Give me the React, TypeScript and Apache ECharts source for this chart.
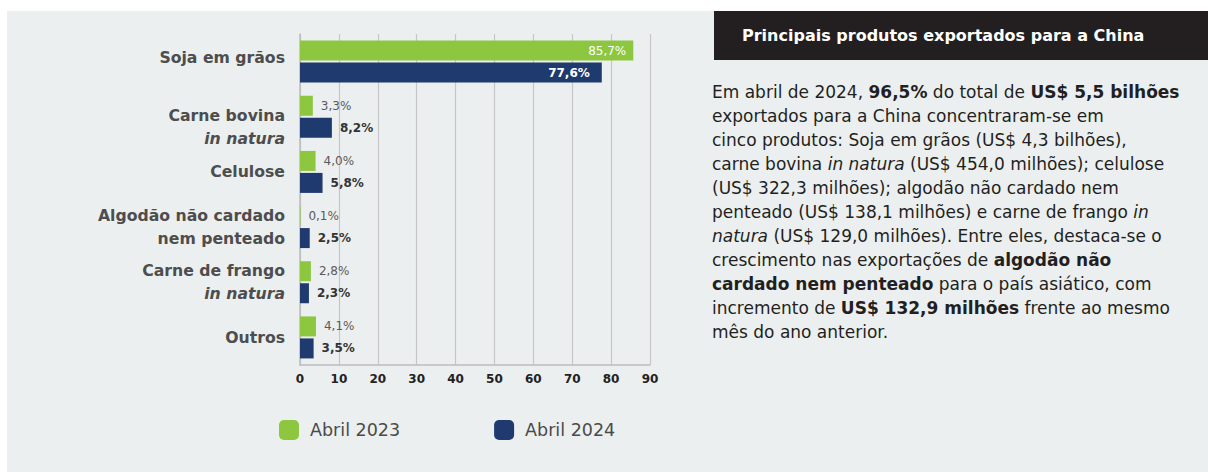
import React, { useEffect, useRef } from "react";
import * as echarts from "echarts";

const categories = [
  "Soja em grãos",
  "Carne bovina in natura",
  "Celulose",
  "Algodão não cardado nem penteado",
  "Carne de frango in natura",
  "Outros",
];
const axisLabels = [
  "{b|Soja em grãos}\n{g8| }",
  "{g20| }\n{b|Carne bovina}\n{i|in natura}",
  "{b|Celulose}",
  "{b|Algodão não cardado}\n{b|nem penteado}",
  "{b|Carne de frango}\n{i|in natura}",
  "{b|Outros}",
];
const seriesNames = ["Abril 2023", "Abril 2024"];
const abril2023 = [85.7, 3.3, 4.0, 0.1, 2.8, 4.1];
const abril2024 = [77.6, 8.2, 5.8, 2.5, 2.3, 3.5];
const xTicks = { min: 0, max: 90, interval: 10 };

const headerTitle = "Principais produtos exportados para a China";
// each line: list of [style, text]
const bodyLines: [string, string][][] = [
  [["n", "Em abril de 2024, "], ["b", "96,5%"], ["n", " do total de "], ["b", "US$ 5,5 bilhões"]],
  [["n", "exportados para a China concentraram-se em"]],
  [["n", "cinco produtos: Soja em grãos (US$ 4,3 bilhões),"]],
  [["n", "carne bovina "], ["i", "in natura"], ["n", " (US$ 454,0 milhões); celulose"]],
  [["n", "(US$ 322,3 milhões); algodão não cardado nem"]],
  [["n", "penteado (US$ 138,1 milhões) e carne de frango "], ["i", "in"]],
  [["i", "natura"], ["n", " (US$ 129,0 milhões). Entre eles, destaca-se o"]],
  [["n", "crescimento nas exportações de "], ["b", "algodão não"]],
  [["b", "cardado nem penteado"], ["n", " para o país asiático, com"]],
  [["n", "incremento de "], ["b", "US$ 132,9 milhões"], ["n", " frente ao mesmo"]],
  [["n", "mês do ano anterior."]],
];

const GREEN = "#8DC63F";
const BLUE = "#1F3A6F";
const FONT = "'DejaVu Sans', sans-serif";
const BODY = 17;

const fmt = (v: number) => v.toFixed(1).replace(".", ",") + "%";

export default function App() {
  const ref = useRef<HTMLDivElement>(null);
  useEffect(() => {
    document.body.style.margin = "0";
    const chart = echarts.init(ref.current!, null, { renderer: "svg" });
    const bodyText = bodyLines
      .map((line) => line.map(([s, t]) => `{${s}|${t}}`).join(""))
      .join("\n");
    const lab = { fontSize: 15.7, fontWeight: 700, color: "#4d4d4d", lineHeight: 23, fontFamily: FONT, align: "right" };
    const option: any = {
      animation: false,
      textStyle: { fontFamily: FONT },
      graphic: [
        {
          type: "rect",
          z: -10,
          shape: { x: 7, y: 11, width: 1201, height: 461 },
          style: { fill: "#ECEFF0" },
        },
        {
          type: "rect",
          z: 10,
          shape: { x: 714, y: 11, width: 494, height: 49 },
          style: { fill: "#231F20" },
        },
        {
          type: "text",
          z: 11,
          x: 742,
          y: 35,
          style: {
            text: headerTitle,
            fill: "#ffffff",
            font: `700 16px ${FONT}`,
            verticalAlign: "middle",
          },
        },
        {
          type: "text",
          z: 11,
          x: 712,
          y: 80,
          style: {
            text: bodyText,
            fill: "#231F20",
            fontFamily: FONT,
            fontSize: BODY,
            lineHeight: 24,
            rich: {
              n: { fontSize: BODY, lineHeight: 24, fill: "#231F20", fontFamily: FONT },
              b: { fontSize: BODY, lineHeight: 24, fontWeight: 700, fill: "#231F20", fontFamily: FONT },
              i: { fontSize: BODY, lineHeight: 24, fontStyle: "italic", fill: "#231F20", fontFamily: FONT },
            },
          },
        },
      ],
      legend: {
        left: 279,
        top: 420,
        padding: 0,
        itemWidth: 20,
        itemHeight: 20,
        itemGap: 94,
        icon: "roundRect",
        textStyle: { fontSize: 17.5, color: "#4a4a4a", fontFamily: FONT, padding: [0, 0, 0, 6] },
        data: seriesNames,
      },
      grid: { left: 300, top: 34, width: 350, height: 331 },
      xAxis: {
        type: "value",
        min: xTicks.min,
        max: xTicks.max,
        interval: xTicks.interval,
        axisLine: { show: true, lineStyle: { color: "#BDBDBD", width: 1.5 } },
        axisTick: { show: false },
        splitLine: { show: true, lineStyle: { color: "#C6C6C6", width: 1.2 } },
        axisLabel: { color: "#222", fontWeight: 700, fontSize: 12, margin: 8, fontFamily: FONT },
      },
      yAxis: {
        type: "category",
        inverse: true,
        data: categories,
        axisTick: { show: false },
        axisLine: { show: true, lineStyle: { color: "#BDBDBD", width: 1.5 } },
        axisLabel: {
          margin: 15,
          formatter: (_v: string, idx: number) => axisLabels[idx],
          rich: {
            b: lab,
            g8: { ...lab, fontSize: 4, lineHeight: 8 },
            g20: { ...lab, fontSize: 4, lineHeight: 20 },
            i: { ...lab, fontStyle: "italic" },
          },
        },
      },
      series: [
        {
          name: seriesNames[0],
          type: "bar",
          barWidth: 20,
          barGap: "10%",
          itemStyle: { color: GREEN },
          data: abril2023.map((v, i) => ({
            value: v,
            label:
              i === 0
                ? { position: "insideRight", distance: 7, color: "#fff", fontWeight: 400 }
                : undefined,
          })),
          label: {
            show: true,
            position: "right",
            distance: 8,
            color: "#5a5a5a",
            fontSize: 12,
            fontFamily: FONT,
            formatter: (p: any) => fmt(p.value),
          },
        },
        {
          name: seriesNames[1],
          type: "bar",
          barWidth: 20,
          barGap: "10%",
          itemStyle: { color: BLUE },
          data: abril2024.map((v, i) => ({
            value: v,
            label:
              i === 0
                ? { position: "insideRight", distance: 12, color: "#fff" }
                : undefined,
          })),
          label: {
            show: true,
            position: "right",
            distance: 8,
            color: "#333",
            fontSize: 12,
            fontWeight: 800,
            fontFamily: FONT,
            formatter: (p: any) => fmt(p.value),
          },
        },
      ],
    };
    chart.setOption(option);
    return () => chart.dispose();
  }, []);
  return (
    <div
      ref={ref}
      style={{ position: "absolute", left: 0, top: 0, width: 1208, height: 472, background: "#fff" }}
    />
  );
}
